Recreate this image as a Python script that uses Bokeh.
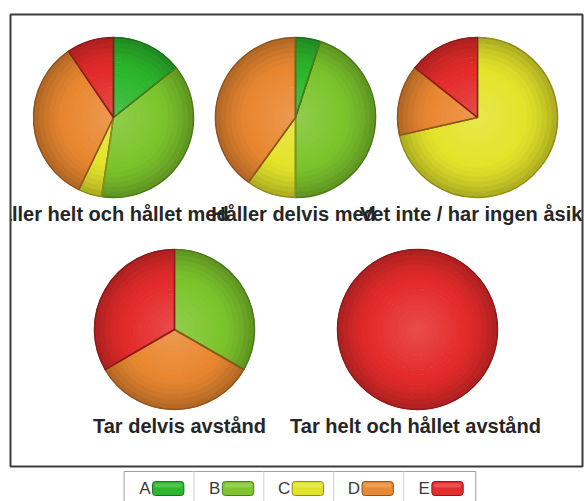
import math
from bokeh.plotting import figure
from bokeh.layouts import column
from bokeh.models import Range1d, ColumnDataSource
from bokeh.embed import file_html
from bokeh.resources import INLINE
from bokeh.core.properties import value

# One pie per statement; slices are the answer groups A-E (respondent counts)
statements = ["Håller helt och hållet med", "Håller delvis med",
              "Vet inte / har ingen åsikt", "Tar delvis avstånd",
              "Tar helt och hållet avstånd"]
categories = ["A", "B", "C", "D", "E"]
count_a = [3, 1, 0, 0, 0]
count_b = [8, 9, 0, 1, 0]
count_c = [1, 2, 5, 0, 0]
count_d = [7, 8, 1, 1, 0]
count_e = [2, 0, 1, 1, 1]
base_colors = ["#2bb52b", "#7cc42c", "#e3e32a", "#e98730", "#e42a2a"]

series = [count_a, count_b, count_c, count_d, count_e]

# layout of the pies inside the panel (screen pixels, y measured downwards)
W, H = 584, 501
pie_pos = [(113, 117), (295, 117), (477, 117), (174, 329), (417, 329)]
pie_r = 80
title_x = [107, 293, 474, 179, 415]
title_mid = [213, 213, 213, 425, 425]
N_BANDS = 16


def rgb(h):
    return tuple(int(h[i:i + 2], 16) for i in (1, 3, 5))


def mix(c1, c2, t):
    return tuple(a + (b - a) * t for a, b in zip(c1, c2))


def to_hex(c):
    return "#%02x%02x%02x" % tuple(max(0, min(255, round(v))) for v in c)


def shade(base, t):
    """Glossy radial shading: lighter centre, darker rim."""
    b = rgb(base)
    light = mix(b, (255, 255, 255), 0.16)
    dark = mix(b, (0, 0, 0), 0.25)
    if t < 0.6:
        return to_hex(mix(light, b, t / 0.6))
    return to_hex(mix(b, dark, ((t - 0.6) / 0.4) ** 1.4))


def edge(base):
    return to_hex(mix(rgb(base), (0, 0, 0), 0.38))


band = dict(x=[], y=[], r0=[], r1=[], a0=[], a1=[], color=[])
outline = dict(x=[], y=[], a0=[], a1=[], color=[])
ring = dict(x=[], y=[], color=[])

for k, (px, py) in enumerate(pie_pos):
    cx, cy = px, H - py
    vals = [s[k] for s in series]
    total = float(sum(vals))
    cum = 0.0
    for ci, v in enumerate(vals):
        if v == 0:
            continue
        frac = v / total
        start = math.pi / 2 - 2 * math.pi * cum          # clockwise from 12 o'clock
        end = math.pi / 2 - 2 * math.pi * (cum + frac)
        cum += frac
        # split long slices into pieces so every arc stays well below a full turn
        pieces = max(1, math.ceil((start - end) / (math.pi * 2 / 3)))
        for j in range(pieces):
            s0 = start - (start - end) * j / pieces
            s1 = start - (start - end) * (j + 1) / pieces
            for b in range(N_BANDS):
                t = (b + 0.5) / N_BANDS
                band["x"].append(cx)
                band["y"].append(cy)
                band["r0"].append(pie_r * b / N_BANDS)
                band["r1"].append(pie_r * (b + 1) / N_BANDS)
                band["a0"].append(s1)
                band["a1"].append(s0)
                band["color"].append(shade(base_colors[ci], t))
        if frac >= 0.999:
            ring["x"].append(cx)
            ring["y"].append(cy)
            ring["color"].append(edge(base_colors[ci]))
        else:
            outline["x"].append(cx)
            outline["y"].append(cy)
            outline["a0"].append(end)
            outline["a1"].append(start)
            outline["color"].append(edge(base_colors[ci]))

p = figure(width=W, height=468, x_range=Range1d(10, 582), y_range=Range1d(35, 487),
           output_backend="svg", toolbar_location=None,
           x_axis_location=None, y_axis_location=None,
           min_border_left=10, min_border_right=2, min_border_top=14, min_border_bottom=2)
p.grid.visible = False
p.outline_line_color = "#3c3c3c"
p.outline_line_width = 2
p.background_fill_color = "white"
p.border_fill_color = "white"

# bands are stroked in their own colour so neighbouring pieces join without seams
p.annular_wedge(x="x", y="y", inner_radius="r0", outer_radius="r1",
                start_angle="a0", end_angle="a1", source=ColumnDataSource(band),
                fill_color="color", line_color="color", line_width=0.9)
p.wedge(x="x", y="y", radius=pie_r, start_angle="a0", end_angle="a1",
        source=ColumnDataSource(outline), fill_alpha=0, line_color="color",
        line_width=1.5)
p.circle(x="x", y="y", radius=pie_r, source=ColumnDataSource(ring),
         fill_alpha=0, line_color="color", line_width=1.5)

p.text(x=title_x, y=[H - m for m in title_mid], text=statements,
       text_align="center", text_baseline="middle",
       text_font=value("Liberation Sans"), text_font_style="bold",
       text_font_size="20px", text_color="#262626")

# legend strip: letter followed by a colour swatch, items separated by thin rules
leg = figure(width=W, height=33, x_range=Range1d(0, W), y_range=Range1d(0, 33),
             output_backend="svg", toolbar_location=None,
             x_axis_location=None, y_axis_location=None,
             min_border_left=0, min_border_right=0, min_border_top=0, min_border_bottom=0)
leg.grid.visible = False
leg.outline_line_color = None
leg.background_fill_color = "white"
leg.border_fill_color = "white"

box_l, box_r, step = 116, 475, 71.3
leg.quad(left=[box_l], right=[box_r], top=[30], bottom=[-4],
         fill_color="white", line_color="#a0a0a0", line_width=1)
seps = [box_l + step * (i + 1) for i in range(len(categories) - 1)]
leg.segment(x0=seps, y0=[30] * len(seps), x1=seps, y1=[-4] * len(seps),
            line_color="#d0d0d0", line_width=1)
item_x = [box_l + step * i for i in range(len(categories))]
leg.quad(left=[x + 29 for x in item_x], right=[x + 61 for x in item_x],
         top=[20] * 5, bottom=[6] * 5, border_radius=3,
         fill_color=[shade(c, 0.55) for c in base_colors],
         line_color=[edge(c) for c in base_colors], line_width=1)
leg.quad(left=[x + 31 for x in item_x], right=[x + 59 for x in item_x],
         top=[18] * 5, bottom=[14] * 5, border_radius=2,
         fill_color="white", fill_alpha=0.18, line_color=None)
leg.text(x=[x + 27 for x in item_x], y=[13] * 5, text=categories,
         text_align="right", text_baseline="middle",
         text_font=value("Liberation Sans"), text_font_size="17px",
         text_color="#3a3a3a")

open("out.html", "w").write(file_html(column(p, leg, spacing=0), INLINE))
